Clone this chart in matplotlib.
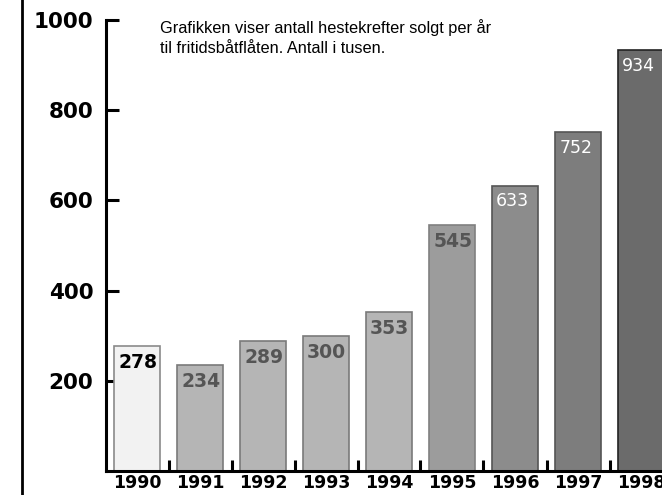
import numpy as np
import matplotlib
matplotlib.use("Agg")
import matplotlib.pyplot as plt
from matplotlib.lines import Line2D

years = ["1990", "1991", "1992", "1993", "1994", "1995", "1996", "1997", "1998"]
values = [278, 234, 289, 300, 353, 545, 633, 752, 934]
bar_colors = ["#f2f2f2", "#b5b5b5", "#b5b5b5", "#b5b5b5", "#b5b5b5",
              "#9c9c9c", "#8c8c8c", "#7d7d7d", "#6b6b6b"]
edge_colors = ["#8a8a8a", "#7a7a7a", "#7a7a7a", "#7a7a7a", "#7a7a7a",
               "#808080", "#555555", "#555555", "#222222"]
label_colors = ["black", "#555555", "#555555", "#555555", "#555555",
                "#555555", "white", "white", "white"]
label_bold = [True, True, True, True, True, True, False, False, False]
yticks = [200, 400, 600, 800, 1000]
title = "Grafikken viser antall hestekrefter solgt per år\ntil fritidsbåtflåten. Antall i tusen."

W, H = 662, 495
fig = plt.figure(figsize=(W / 100, H / 100), dpi=100)
# axes placed in pixel terms: spine at x=106, baseline y=471, 1000 at y=20
ax = fig.add_axes([106 / W, (H - 471) / H, (W - 106) / W, 451 / H])

x = np.arange(len(years))
bw = 46 / 63
ax.bar(x, values, width=bw, color=bar_colors, edgecolor=edge_colors, linewidth=1.2, zorder=2)

for i, v in enumerate(values):
    ax.annotate(str(v), (x[i] - bw / 2, v), xytext=(3, -5), textcoords="offset points",
                ha="left", va="top", fontsize=13.5 if label_bold[i] else 12.5,
                fontweight="bold" if label_bold[i] else "normal",
                color=label_colors[i], zorder=3)

ax.set_xlim((106 - 137) / 63, (662 - 137) / 63)
ax.set_ylim(0, 1000)

for s in ["top", "right"]:
    ax.spines[s].set_visible(False)
ax.spines["left"].set_linewidth(2.2)
ax.spines["bottom"].set_linewidth(2.2)

ax.set_yticks(yticks)
ax.set_yticklabels([str(t) for t in yticks], fontsize=15.5, fontweight="bold")
ax.tick_params(axis="y", direction="in", length=9, width=2.2, pad=9)

ax.set_xticks(x)
ax.set_xticklabels(years, fontsize=12.5, fontweight="bold")
ax.tick_params(axis="x", which="major", length=0, pad=2)
ax.set_xticks(x[:-1] + 0.5, minor=True)
ax.tick_params(axis="x", which="minor", direction="in", length=8, width=2.2)

# left border line of the graphic
fig.add_artist(Line2D([22 / W, 22 / W], [0, 1], color="black", linewidth=2))

fig.text(160 / W, 1 - 19 / H, title, ha="left", va="top", fontsize=11.8,
         family="Liberation Sans", linespacing=1.45)

fig.savefig("out.png", dpi=100)
